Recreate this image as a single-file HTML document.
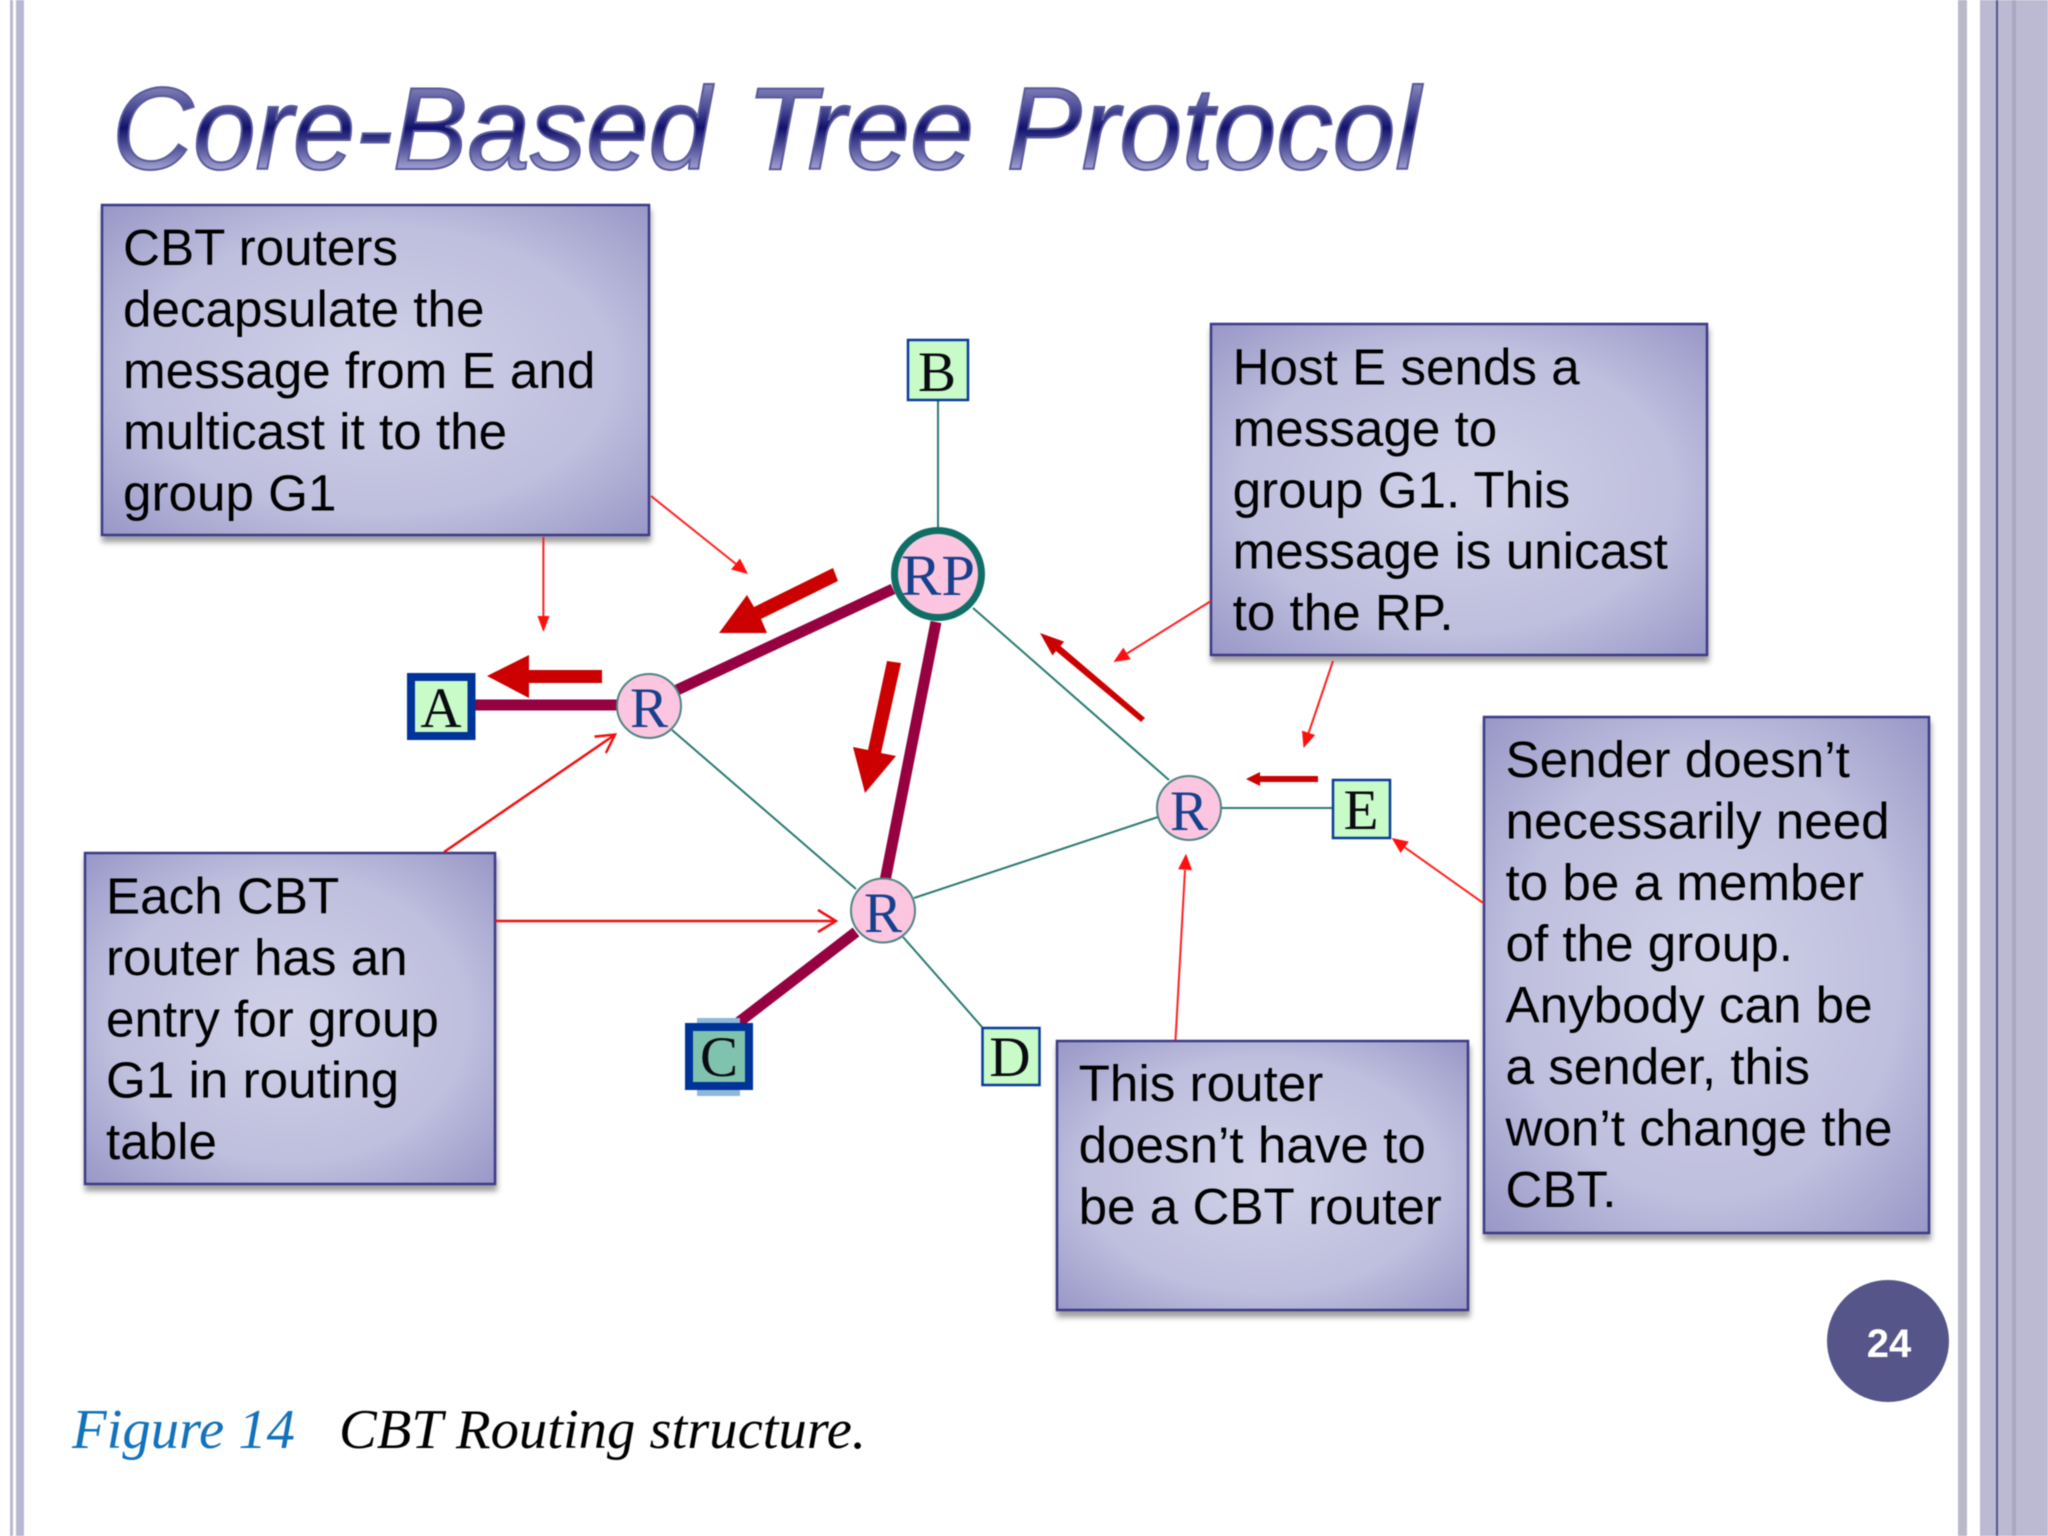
<!DOCTYPE html>
<html>
<head>
<meta charset="utf-8">
<title>Core-Based Tree Protocol</title>
<style>
html,body{margin:0;padding:0;background:#fff;}
body{width:2048px;height:1536px;overflow:hidden;}
svg{display:block;filter:blur(0.5px);}
.b{font-family:"Liberation Sans",Arial,sans-serif;font-size:51.2px;fill:#000;}
.n{font-family:"Liberation Serif","Times New Roman",serif;font-size:57px;text-anchor:middle;}
.h{fill:#0b0b12;}
.r{fill:#17408c;}
.cap{font-family:"Liberation Serif","Times New Roman",serif;font-style:italic;font-size:56px;}
.t{font-family:"Liberation Sans",Arial,sans-serif;font-style:italic;font-size:117px;fill:url(#tg);stroke:#5a5a9c;stroke-width:2;}
</style>
</head>
<body>
<svg xmlns="http://www.w3.org/2000/svg" width="2048" height="1536" viewBox="0 0 2048 1536">
<defs>
<linearGradient id="tg" gradientUnits="userSpaceOnUse" x1="0" y1="85" x2="0" y2="171">
<stop offset="0" stop-color="#8484ba"/>
<stop offset="0.25" stop-color="#50509a"/>
<stop offset="0.5" stop-color="#12126c"/>
<stop offset="0.75" stop-color="#5a5aa0"/>
<stop offset="1" stop-color="#a8a8d4"/>
</linearGradient>
<radialGradient id="bg" cx="0.5" cy="0.5" r="0.72">
<stop offset="0" stop-color="#d0d1e8"/>
<stop offset="0.6" stop-color="#bfbfde"/>
<stop offset="1" stop-color="#9695c6"/>
</radialGradient>
<filter id="sh" x="-5%" y="-5%" width="110%" height="112%">
<feDropShadow dx="1" dy="6" stdDeviation="3" flood-color="#000" flood-opacity="0.38"/>
</filter>
</defs>

<rect width="2048" height="1536" fill="#fff"/>

<!-- frame bars -->
<rect x="10" y="0" width="3" height="1536" fill="#b9b8d2"/>
<rect x="16" y="0" width="8" height="1536" fill="#b9b8d2"/>
<rect x="1958" y="0" width="9" height="1536" fill="#b9b9c8"/>
<rect x="1980" y="0" width="68" height="1536" fill="#bbbad2"/>
<rect x="1996" y="0" width="2" height="1536" fill="#55558a"/>
<rect x="2012" y="0" width="4" height="1536" fill="#a9a8c3"/>

<!-- title -->
<text class="t" x="112" y="169" textLength="599" lengthAdjust="spacingAndGlyphs">Core-Based</text>
<text class="t" x="746" y="169" textLength="228" lengthAdjust="spacingAndGlyphs">Tree</text>
<text class="t" x="1006.5" y="169" textLength="414" lengthAdjust="spacingAndGlyphs">Protocol</text>

<!-- thin teal links -->
<g stroke="#2a7a70" stroke-width="2" fill="none">
<line x1="938" y1="400" x2="938" y2="528"/>
<line x1="973" y1="608" x2="1169" y2="780"/>
<line x1="672" y1="730" x2="856" y2="889"/>
<line x1="914" y1="898" x2="1158" y2="817"/>
<line x1="903" y1="937" x2="982" y2="1027"/>
<line x1="1221" y1="808" x2="1332" y2="808"/>
</g>

<!-- thick maroon links -->
<g stroke="#960040" fill="none">
<line x1="475" y1="705" x2="617" y2="705" stroke-width="11"/>
<line x1="677" y1="690" x2="893" y2="589" stroke-width="11"/>
<line x1="936" y1="622" x2="885" y2="881" stroke-width="11"/>
<line x1="856" y1="932" x2="739" y2="1022" stroke-width="11"/>
</g>

<!-- big red arrows -->
<g fill="#cc0000">
<polygon points="602,670 529,670 529,655 487,676 529,698 529,683 602,683"/>
<polygon points="833,568 754,607 747,595 719,633 767,633 761,619 838,581"/>
<polygon points="887,661 868,750 853,747 865,793 896,756 881,753 901,663"/>
<polygon points="1040,633 1052.5,655.4 1056,651 1141,722 1145,718 1060.5,646 1064.1,641.6"/>
<polygon points="1246,779 1260,772 1260,776 1318,776 1318,782 1260,782 1260,786"/>
</g>

<!-- boxes -->
<g fill="url(#bg)" stroke="#3a3a86" stroke-width="2.5" filter="url(#sh)">
<rect x="102" y="205" width="547" height="330"/>
<rect x="1211" y="324" width="496" height="331"/>
<rect x="1484" y="717" width="445" height="516"/>
<rect x="85" y="853" width="410" height="331"/>
<rect x="1057" y="1041" width="411" height="269"/>
</g>

<!-- thin red arrows -->
<g stroke="#ff2020" stroke-width="2" fill="none">
<line x1="543.4" y1="537" x2="543.4" y2="618"/>
<line x1="651" y1="496" x2="736" y2="564"/>
<line x1="1211" y1="601" x2="1127" y2="653.5"/>
<line x1="1333" y1="661" x2="1308.6" y2="733"/>
<line x1="1484" y1="903.6" x2="1404.7" y2="847.3"/>
<line x1="1175.5" y1="1040" x2="1185" y2="870"/>
</g>
<g fill="#ff1010">
<polygon points="543.4,632 537.5,616 549.5,616"/>
<polygon points="748,574 731.1,569.5 739.9,558.5"/>
<polygon points="1113.5,662 1130.7,659.4 1123.3,647.6"/>
<polygon points="1303.5,748 1315.2,735 1302,730.6"/>
<polygon points="1391.7,838 1408.8,841.6 1400.6,853"/>
<polygon points="1186,853.7 1192.1,870.1 1178.1,869.3"/>
</g>
<g stroke="#f01010" stroke-width="2.5" fill="none">
<line x1="444" y1="852" x2="613" y2="736"/>
<polyline points="605.9,753 615,734.6 594.5,736.6"/>
<line x1="495" y1="921" x2="834" y2="921"/>
<polyline points="818,910 836,921 818,932"/>
</g>

<!-- square nodes -->
<g fill="#c8fbc8" stroke="#0a3a9a" stroke-width="2.5">
<rect x="908" y="340" width="60" height="60"/>
<rect x="982.5" y="1028" width="57" height="57"/>
<rect x="1333" y="780" width="57" height="58"/>
</g>
<rect x="411" y="677" width="60.5" height="59" fill="#c8fbc8" stroke="#003399" stroke-width="8"/>
<rect x="697" y="1018" width="43" height="5" fill="#8fb8d8"/>
<rect x="697" y="1090" width="43" height="6" fill="#8fb8d8"/>
<rect x="689" y="1027" width="60" height="59" fill="#7fc2ae" stroke="#003399" stroke-width="8"/>

<!-- router nodes -->
<circle cx="938" cy="574" r="43.5" fill="#fcc6e0" stroke="#0f6f66" stroke-width="7"/>
<g fill="#fcc6e0" stroke="#4f8583" stroke-width="2">
<circle cx="649" cy="706" r="32"/>
<circle cx="883" cy="910.5" r="32"/>
<circle cx="1189" cy="808" r="32"/>
</g>

<!-- node labels -->
<text class="n h" x="937" y="391">B</text>
<text class="n h" x="441" y="727">A</text>
<text class="n h" x="719" y="1076">C</text>
<text class="n h" x="1010" y="1076">D</text>
<text class="n h" x="1361" y="829">E</text>
<text class="n r" x="938" y="595" style="font-size:58px" textLength="74" lengthAdjust="spacingAndGlyphs">RP</text>
<text class="n r" x="649" y="727">R</text>
<text class="n r" x="883" y="932">R</text>
<text class="n r" x="1189" y="830">R</text>

<!-- box text -->
<g class="b">
<text x="123" y="265">CBT routers</text>
<text x="123" y="326.4">decapsulate the</text>
<text x="123" y="387.8">message from E and</text>
<text x="123" y="449.2">multicast it to the</text>
<text x="123" y="510.6">group G1</text>

<text x="1232.6" y="384.5">Host E sends a</text>
<text x="1232.6" y="445.9">message to</text>
<text x="1232.6" y="507.3">group G1. This</text>
<text x="1232.6" y="568.7">message is unicast</text>
<text x="1232.6" y="630.1">to the RP.</text>

<text x="1505.5" y="777">Sender doesn’t</text>
<text x="1505.5" y="838.4">necessarily need</text>
<text x="1505.5" y="899.8">to be a member</text>
<text x="1505.5" y="961.2">of the group.</text>
<text x="1505.5" y="1022.6">Anybody can be</text>
<text x="1505.5" y="1084">a sender, this</text>
<text x="1505.5" y="1145.4">won’t change the</text>
<text x="1505.5" y="1206.8">CBT.</text>

<text x="106" y="913.5">Each CBT</text>
<text x="106" y="974.9">router has an</text>
<text x="106" y="1036.3">entry for group</text>
<text x="106" y="1097.7">G1 in routing</text>
<text x="106" y="1159.1">table</text>

<text x="1078.6" y="1101">This router</text>
<text x="1078.6" y="1162.4">doesn’t have to</text>
<text x="1078.6" y="1223.8">be a CBT router</text>
</g>

<!-- page number -->
<circle cx="1888" cy="1341" r="61" fill="#55558a"/>
<text x="1889" y="1357" text-anchor="middle" font-family="'Liberation Sans',Arial,sans-serif" font-weight="bold" font-size="40" fill="#fff">24</text>

<!-- caption -->
<text class="cap" x="72" y="1448" fill="#1272bb" textLength="223" lengthAdjust="spacingAndGlyphs">Figure 14</text>
<text class="cap" x="339" y="1448" fill="#000" textLength="527" lengthAdjust="spacingAndGlyphs">CBT Routing structure.</text>
</svg>
</body>
</html>
